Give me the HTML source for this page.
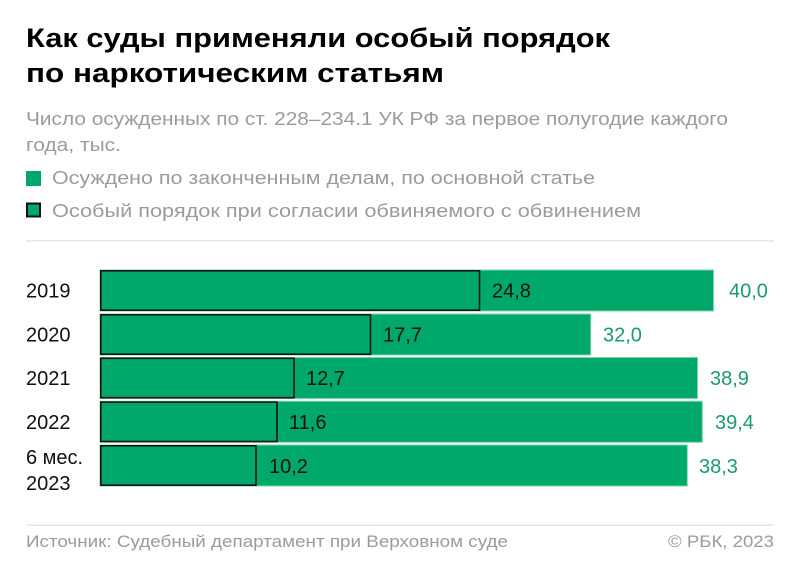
<!DOCTYPE html>
<html>
<head>
<meta charset="utf-8">
<style>
  html,body{margin:0;padding:0;background:#fff;}
  svg{display:block;}
  text{font-family:"Liberation Sans","Noto Sans CJK SC",sans-serif;}
</style>
</head>
<body>
<svg width="800" height="574" viewBox="0 0 800 574" xmlns="http://www.w3.org/2000/svg">
  <rect width="800" height="574" fill="#fff"/>
  <!-- Title -->
  <text x="26" y="47" font-size="27" font-weight="bold" fill="#000" textLength="584" lengthAdjust="spacingAndGlyphs">Как суды применяли особый порядок</text>
  <text x="26" y="82" font-size="27" font-weight="bold" fill="#000" textLength="418" lengthAdjust="spacingAndGlyphs">по наркотическим статьям</text>
  <!-- Subtitle -->
  <text x="26" y="125" font-size="18" fill="#9b9b9b" textLength="702" lengthAdjust="spacingAndGlyphs">Число осужденных по ст. 228–234.1 УК РФ за первое полугодие каждого</text>
  <text x="26" y="151" font-size="18" fill="#9b9b9b" textLength="95" lengthAdjust="spacingAndGlyphs">года, тыс.</text>
  <!-- Legend -->
  <rect x="26" y="171" width="15" height="15" fill="#00a86a"/>
  <text x="52" y="184" font-size="18" fill="#9b9b9b" textLength="543" lengthAdjust="spacingAndGlyphs">Осуждено по законченным делам, по основной статье</text>
  <rect x="27" y="203.5" width="13" height="13" fill="#00a86a" stroke="#111" stroke-width="2"/>
  <text x="52" y="217" font-size="18" fill="#9b9b9b" textLength="589" lengthAdjust="spacingAndGlyphs">Особый порядок при согласии обвиняемого с обвинением</text>
  <!-- separator -->
  <rect x="26" y="240" width="748" height="1.5" fill="#e6e6e6"/>

  <!-- Bars -->
  <g>
    <!-- 2019 -->
    <rect x="100" y="270" width="613.5" height="41" fill="#00a86a" stroke="#7fd3ad" stroke-width="1"/>
    <rect x="100.8" y="270.8" width="378.7" height="39.4" fill="none" stroke="#151515" stroke-width="1.6"/>
    <text x="26" y="297.5" font-size="20" fill="#111">2019</text>
    <text x="492" y="297.5" font-size="20" fill="#111">24,8</text>
    <text x="729" y="297.5" font-size="20" fill="#1a9c6a">40,0</text>

    <!-- 2020 -->
    <rect x="100" y="314" width="490.7" height="41" fill="#00a86a" stroke="#7fd3ad" stroke-width="1"/>
    <rect x="100.8" y="314.8" width="269.7" height="39.4" fill="none" stroke="#151515" stroke-width="1.6"/>
    <text x="26" y="341.5" font-size="20" fill="#111">2020</text>
    <text x="383" y="341.5" font-size="20" fill="#111">17,7</text>
    <text x="603" y="341.5" font-size="20" fill="#1a9c6a">32,0</text>

    <!-- 2021 -->
    <rect x="100" y="357.5" width="597.5" height="41" fill="#00a86a" stroke="#7fd3ad" stroke-width="1"/>
    <rect x="100.8" y="358.3" width="193.2" height="39.4" fill="none" stroke="#151515" stroke-width="1.6"/>
    <text x="26" y="385" font-size="20" fill="#111">2021</text>
    <text x="306" y="385" font-size="20" fill="#111">12,7</text>
    <text x="710" y="385" font-size="20" fill="#1a9c6a">38,9</text>

    <!-- 2022 -->
    <rect x="100" y="401.3" width="602.3" height="41" fill="#00a86a" stroke="#7fd3ad" stroke-width="1"/>
    <rect x="100.8" y="402.1" width="176.2" height="39.4" fill="none" stroke="#151515" stroke-width="1.6"/>
    <text x="26" y="428.8" font-size="20" fill="#111">2022</text>
    <text x="289" y="428.8" font-size="20" fill="#111">11,6</text>
    <text x="715" y="428.8" font-size="20" fill="#1a9c6a">39,4</text>

    <!-- 2023 -->
    <rect x="100" y="445" width="587.3" height="41" fill="#00a86a" stroke="#7fd3ad" stroke-width="1"/>
    <rect x="100.8" y="445.8" width="155.2" height="39.4" fill="none" stroke="#151515" stroke-width="1.6"/>
    <text x="26" y="464" font-size="20" fill="#111">6 мес.</text>
    <text x="26" y="490" font-size="20" fill="#111">2023</text>
    <text x="269" y="473" font-size="20" fill="#111">10,2</text>
    <text x="699" y="473" font-size="20" fill="#1a9c6a">38,3</text>
  </g>

  <!-- Footer -->
  <rect x="26" y="524.5" width="748" height="1.5" fill="#e6e6e6"/>
  <text x="26" y="547" font-size="17" fill="#9b9b9b" textLength="482" lengthAdjust="spacingAndGlyphs">Источник: Судебный департамент при Верховном суде</text>
  <text x="668" y="547" font-size="17" fill="#9b9b9b" textLength="106" lengthAdjust="spacingAndGlyphs">© РБК, 2023</text>
</svg>
</body>
</html>
